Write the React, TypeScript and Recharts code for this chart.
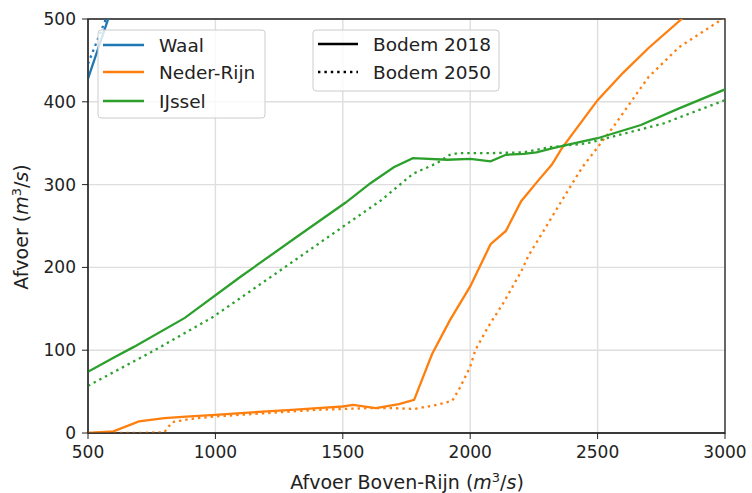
import React from "react";
import {
  LineChart,
  Line,
  XAxis,
  YAxis,
  CartesianGrid,
  ReferenceArea,
} from "recharts";

// Afvoer Boven-Rijn (x) en afvoer per tak (y), per bodemjaar
const WAAL_2018_Q = [500, 600];
const WAAL_2018 = [428, 519];
const WAAL_2050_Q = [500, 570, 620];
const WAAL_2050 = [446, 500, 538];

const NR_2018_Q = [500, 600, 700, 800, 900, 1000, 1100, 1200, 1300, 1400, 1500, 1540, 1630, 1720, 1780, 1850, 1920, 2000, 2080, 2140, 2200, 2270, 2320, 2360, 2500, 2600, 2700, 2830, 2900];
const NR_2018 = [0, 2, 14, 18, 20, 22, 24, 26, 28, 30, 32, 34, 30, 35, 40, 95, 136, 177, 228, 244, 280, 306, 324, 344, 402, 435, 465, 500, 519];
const NR_2050_Q = [500, 600, 700, 800, 830, 900, 1000, 1100, 1200, 1300, 1400, 1500, 1600, 1700, 1780, 1870, 1930, 1960, 2000, 2020, 2070, 2130, 2200, 2230, 2290, 2360, 2440, 2560, 2700, 2820, 2970, 3000];
const NR_2050 = [0, 0, 0, 1, 13, 17, 20, 22, 24, 26, 28, 29, 30, 30, 29, 34, 39, 55, 80, 100, 128, 157, 195, 215, 245, 281, 321, 369, 430, 466, 496, 502];

const IJ_2018_Q = [500, 600, 680, 880, 1100, 1320, 1510, 1610, 1700, 1775, 1910, 2000, 2080, 2140, 2210, 2260, 2325, 2380, 2500, 2670, 2820, 3000];
const IJ_2018 = [74, 91, 104, 139, 189, 237, 278, 302, 321, 332, 330, 331, 328, 336, 337, 339, 344, 348, 356, 372, 392, 415];
const IJ_2050_Q = [500, 750, 990, 1220, 1500, 1650, 1775, 1870, 1920, 1950, 2080, 2210, 2310, 2460, 2560, 2760, 3000];
const IJ_2050 = [57, 98, 140, 189, 249, 281, 313, 326, 336, 338, 338, 339, 345, 350, 358, 374, 402];

const X_TICKS = [500, 1000, 1500, 2000, 2500, 3000];
const Y_TICKS = [0, 100, 200, 300, 400, 500];

const RIVERS = ["Waal", "Neder-Rijn", "IJssel"];
const COLORS = ["#1f77b4", "#ff7f0e", "#2ca02c"];
const BODEM = ["Bodem 2018", "Bodem 2050"];

const FONT = "DejaVu Sans";
const DOTS = "2.4 4";

const zip = (q: number[], v: number[]) => q.map((x, i) => ({ q: x, v: v[i] }));

const series = [
  { key: "w18", data: zip(WAAL_2018_Q, WAAL_2018), color: COLORS[0], dash: undefined },
  { key: "w50", data: zip(WAAL_2050_Q, WAAL_2050), color: COLORS[0], dash: DOTS },
  { key: "n18", data: zip(NR_2018_Q, NR_2018), color: COLORS[1], dash: undefined },
  { key: "n50", data: zip(NR_2050_Q, NR_2050), color: COLORS[1], dash: DOTS },
  { key: "i18", data: zip(IJ_2018_Q, IJ_2018), color: COLORS[2], dash: undefined },
  { key: "i50", data: zip(IJ_2050_Q, IJ_2050), color: COLORS[2], dash: DOTS },
];

const Unit = () => (
  <>
    (<tspan fontStyle="italic">m</tspan>
    <tspan dy={-7} fontSize={13}>3</tspan>
    <tspan dy={7}>/</tspan>
    <tspan fontStyle="italic">s</tspan>)
  </>
);

const Legends = () => (
  <svg
    width={752}
    height={493}
    style={{ position: "absolute", left: 0, top: 0, pointerEvents: "none" }}
    fontFamily={FONT}
    fontSize={18.5}
  >
    <rect x={98} y={30} width={167} height={88} rx={3} fill="rgba(255,255,255,0.8)" stroke="#cccccc" />
    {RIVERS.map((r, i) => {
      const y = [45, 72, 101][i];
      return (
        <g key={r}>
          <line x1={103} x2={144} y1={y} y2={y} stroke={COLORS[i]} strokeWidth={2.3} />
          <text x={159} y={y + 6.5} fill="#222">{r}</text>
        </g>
      );
    })}
    <rect x={313} y={30} width={186} height={61} rx={3} fill="rgba(255,255,255,0.8)" stroke="#cccccc" />
    {BODEM.map((b, i) => {
      const y = [44, 72][i];
      return (
        <g key={b}>
          <line x1={318} x2={358} y1={y} y2={y} stroke="#000" strokeWidth={2.3} strokeDasharray={i ? DOTS : undefined} />
          <text x={373} y={y + 6.5} fill="#222">{b}</text>
        </g>
      );
    })}
  </svg>
);

export default function App() {
  return (
    <div style={{ position: "absolute", left: 0, top: 0, width: 752, height: 493, background: "#fff" }}>
      <LineChart
        width={752}
        height={493}
        margin={{ top: 19, right: 27, left: 0, bottom: 0 }}
        style={{ fontFamily: FONT }}
      >
        <CartesianGrid stroke="#dedede" strokeWidth={1.4} vertical horizontal />
        <XAxis
          type="number"
          dataKey="q"
          domain={[500, 3000]}
          ticks={X_TICKS}
          allowDataOverflow
          height={60}
          tickSize={6}
          tickMargin={7}
          stroke="#222"
          tick={{ fill: "#222", fontSize: 17 }}
          label={{
            content: () => (
              <text x={407} y={489} textAnchor="middle" fontSize={19} fill="#222" fontFamily={FONT}>
                Afvoer Boven-Rijn <Unit />
              </text>
            ),
          }}
        />
        <YAxis
          type="number"
          domain={[0, 500]}
          ticks={Y_TICKS}
          allowDataOverflow
          width={88}
          tickSize={6}
          tickMargin={6}
          stroke="#222"
          tick={{ fill: "#222", fontSize: 17 }}
          label={{
            content: () => (
              <text
                transform="rotate(-90)"
                x={-227}
                y={28}
                textAnchor="middle"
                fontSize={19}
                fill="#222"
                fontFamily={FONT}
              >
                Afvoer <Unit />
              </text>
            ),
          }}
        />
        {series.map((s) => (
          <Line
            key={s.key}
            data={s.data}
            dataKey="v"
            type="linear"
            stroke={s.color}
            strokeWidth={2.3}
            strokeDasharray={s.dash}
            dot={false}
            activeDot={false}
            isAnimationActive={false}
          />
        ))}
        <ReferenceArea x1={500} x2={3000} y1={0} y2={500} fill="none" stroke="#222" strokeWidth={1.3} ifOverflow="visible" />
      </LineChart>
      <Legends />
    </div>
  );
}
